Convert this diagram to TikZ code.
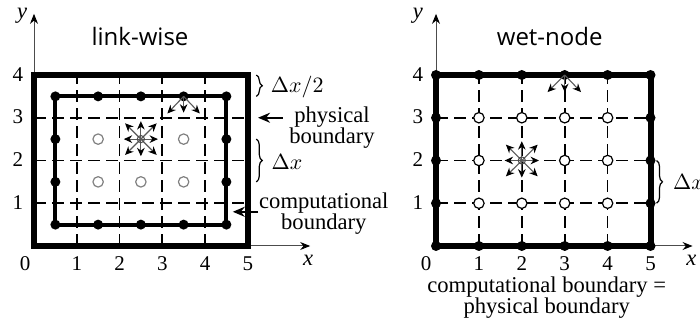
\documentclass[tikz,border=0pt]{standalone}
\usepackage{fontspec}
\setmainfont{Liberation Serif}
\newfontfamily\titlefont{Open Sans}
\usetikzlibrary{arrows.meta,decorations.pathreplacing}
\begin{document}
\begin{tikzpicture}[x=1pt,y=1pt,
  gridline/.style={line width=0.8pt, dash pattern=on 6pt off 3pt},
  outerbox/.style={line width=3pt},
  compbox/.style={line width=2pt},
  fdot/.style={circle, fill=black, inner sep=0pt, minimum size=5pt},
  odot/.style={circle, draw=gray, fill=white, line width=0.6pt, inner sep=0pt, minimum size=5.2pt},
  odotb/.style={circle, draw=black, fill=white, line width=0.6pt, inner sep=0pt, minimum size=5.2pt},
  cdot/.style={circle, draw=black!70, line width=0.5pt, inner sep=0pt, minimum size=3.6pt},
  axisline/.style={line width=0.5pt, draw=black!70, -{Stealth[length=5pt,width=4pt,black]}},
  arr/.style={line width=0.55pt, draw=black!65, -{Stealth[length=4.2pt,width=3.8pt,black]}},
  notearr/.style={line width=1pt, -{Stealth[length=6pt,width=5pt]}},
  lbl/.style={font=\fontsize{11.3}{10.5}\selectfont, inner sep=0pt},
  tick/.style={font=\fontsize{10.5}{12}\selectfont, inner sep=0pt},
  ttl/.style={font=\titlefont\fontsize{12}{14}\selectfont, inner sep=0pt},
  br/.style={decorate, decoration={brace, amplitude=3pt}, line width=0.6pt}
]
\useasboundingbox (0,0) rectangle (350,163);

%================ LEFT: link-wise ================
\begin{scope}[shift={(17,40)}, x=21.375pt, y=21.375pt]
  \coordinate (Lo) at (0,0);
  \coordinate (Lxt) at (6.46,0);
  \coordinate (Lyt) at (0,5.43);
  \draw[axisline] (Lo) -- (Lxt);
  \draw[axisline] (Lo) -- (Lyt);
  % grid
  \foreach \i in {1,2,3,4} \draw[gridline] (\i,0) -- (\i,4);
  \foreach \j in {1,2,3} \draw[gridline] (0,\j) -- (5,\j);
  % physical boundary
  \draw[outerbox] (0,0) rectangle (5,4);
  % computational boundary
  \draw[compbox] (0.5,0.5) rectangle (4.5,3.5);
  \foreach \i [count=\k] in {0.5,1.5,2.5,3.5,4.5} {
    \node[fdot] (Lb\k) at (\i,0.5) {};
    \node[fdot] (Lt\k) at (\i,3.5) {};
  }
  \foreach \j [count=\k] in {1.5,2.5} {
    \node[fdot] (Ll\k) at (0.5,\j) {};
    \node[fdot] (Lr\k) at (4.5,\j) {};
  }
  % interior nodes
  \node[odot] (Lc1) at (1.5,2.5) {};
  \node[odot] (Lc2) at (3.5,2.5) {};
  \node[odot] (Lc3) at (1.5,1.5) {};
  \node[odot] (Lc4) at (2.5,1.5) {};
  \node[odot] (Lc5) at (3.5,1.5) {};
  % star
  \coordinate (Ls) at (2.5,2.5);
  \foreach \dx/\dy in {0.4/0,-0.4/0,0/0.42,0/-0.4,0.37/0.37,-0.37/0.37,0.37/-0.37,-0.37/-0.37}
    \draw[arr] (Ls) -- ++(\dx,\dy);
  \node[cdot] (Lsc) at (Ls) {};
  % top boundary node arrows
  \draw[arr] (Lt4.center) -- ++(0,-0.38);
  \draw[arr] (Lt4.center) -- ++(-0.38,-0.4);
  \draw[arr] (Lt4.center) -- ++(0.38,-0.4);
  % ticks
  \node[tick] (Lx0) at (-0.21,-0.42) {0};
  \foreach \i in {1,...,5} \node[tick] (Lx\i) at (\i,-0.42) {\i};
  \foreach \j in {1,...,4} \node[tick] (Ly\j) at (-0.38,\j+0.02) {\j};
  \node[lbl] (Lylab) at (-0.28,5.38) {\itshape y};
  \node[lbl] (Lxlab) at (6.41,-0.33) {\itshape x};
  \node[ttl] (Ltitle) at (2.48,4.91) {link-wise};
  % annotations
  \draw[br] (5.2,4) -- (5.2,3.5);
  \node[lbl, anchor=west] (Lhalf) at (5.53,3.72) {$\Delta x/2$};
  \draw[br] (5.2,2.5) -- (5.2,1.5);
  \node[lbl, anchor=west] (Ldx) at (5.55,1.96) {$\Delta x$};
  \node[lbl, align=center] (Lphys) at (6.97,2.76) {physical\\boundary};
  \coordinate (Lpa) at (5.82,3.0);
  \coordinate (Lpb) at (5.24,3.0);
  \draw[notearr] (Lpa) -- (Lpb);
  \node[lbl, align=center] (Lcomp) at (6.78,0.75) {computational\\boundary};
  \coordinate (Lca) at (5.24,0.8);
  \coordinate (Lcb) at (4.65,0.8);
  \draw[notearr] (Lca) -- (Lcb);
\end{scope}

%================ RIGHT: wet-node ================
\begin{scope}[shift={(218,40)}, x=21.45pt, y=21.375pt]
  \coordinate (Ro) at (0,0);
  \coordinate (Rxt) at (5.98,0);
  \coordinate (Ryt) at (0,5.43);
  \draw[axisline] (Ro) -- (Rxt);
  \draw[axisline] (Ro) -- (Ryt);
  \foreach \i in {1,2,3,4} \draw[gridline] (\i,0) -- (\i,4);
  \foreach \j in {1,2,3} \draw[gridline] (0,\j) -- (5,\j);
  \draw[outerbox] (0,0) rectangle (5,4);
  \foreach \i in {0,...,5} {
    \node[fdot] (Rb\i) at (\i,0) {};
    \node[fdot] (Rt\i) at (\i,4) {};
  }
  \foreach \j in {1,2,3} {
    \node[fdot] (Rl\j) at (0,\j) {};
    \node[fdot] (Rr\j) at (5,\j) {};
  }
  \foreach \i in {1,...,4} \foreach \j in {1,2,3} {
    \ifnum\i=2 \ifnum\j=2 \else \node[odotb] (Rc\i\j) at (\i,\j) {}; \fi
    \else \node[odotb] (Rc\i\j) at (\i,\j) {}; \fi
  }
  \coordinate (Rs) at (2,2);
  \foreach \dx/\dy in {0.4/0,-0.4/0,0/0.45,0/-0.4,0.37/0.37,-0.37/0.37,0.37/-0.37,-0.37/-0.37}
    \draw[arr] (Rs) -- ++(\dx,\dy);
  \node[cdot] (Rsc) at (Rs) {};
  \draw[arr] (Rt3.center) -- ++(0,-0.4);
  \draw[arr] (Rt3.center) -- ++(-0.4,-0.4);
  \draw[arr] (Rt3.center) -- ++(0.38,-0.4);
  \node[tick] (Rx0) at (-0.23,-0.42) {0};
  \foreach \i in {1,...,5} \node[tick] (Rx\i) at (\i,-0.42) {\i};
  \foreach \j in {1,...,4} \node[tick] (Ry\j) at (-0.42,\j+0.02) {\j};
  \node[lbl] (Rylab) at (-0.42,5.38) {\itshape y};
  \node[lbl] (Rxlab) at (5.95,-0.33) {\itshape x};
  \node[ttl] (Rtitle) at (2.65,4.91) {wet-node};
  \draw[br] (5.14,2) -- (5.14,1);
  \node[lbl, anchor=west] (Rdx) at (5.52,1.5) {$\Delta x$};
  \node[lbl, anchor=base] (Rcap1) at (2.58,-1.08) {computational boundary =};
  \node[lbl, anchor=base] (Rcap2) at (2.58,-1.57) {physical boundary};
\end{scope}
\end{tikzpicture}
\end{document}
